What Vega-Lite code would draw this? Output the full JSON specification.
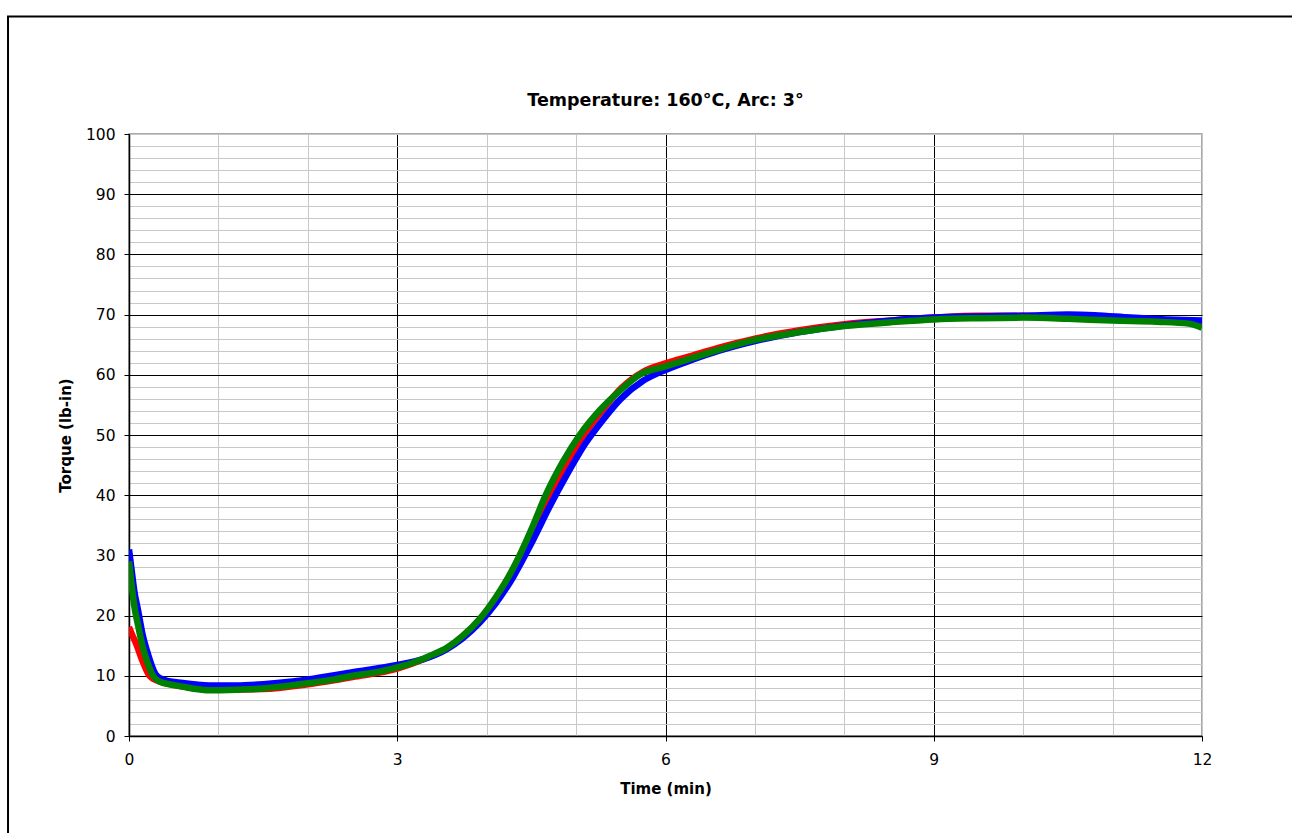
{
  "$schema": "https://vega.github.io/schema/vega-lite/v6.json",
  "width": 1073,
  "height": 602,
  "autosize": {"type": "none"},
  "padding": {"left": 129, "top": 134, "right": 90, "bottom": 97},
  "background": "white",
  "title": {"text": "Temperature: 160°C, Arc: 3°", "fontSize": 17.5, "font": "DejaVu Sans", "fontWeight": "bold", "color": "black", "anchor": "middle", "frame": "group", "offset": 22, "dy": 116},
  "config": {
    "view": {"stroke": "#8c8c8c", "strokeWidth": 1.5},
    "axis": {"labelFont": "DejaVu Sans", "titleFont": "DejaVu Sans", "labelFontSize": 15.5, "titleFontSize": 15, "labelColor": "black", "titleColor": "black", "titleFontWeight": "bold", "domainColor": "black", "domainWidth": 1.5, "tickColor": "black", "tickSize": 5, "labelOverlap": false, "labelFlush": false}
  },
  "datasets": {
    "curves": [
      {"s": "red", "t": 0, "v": 18.1}, {"s": "red", "t": 0.03, "v": 17}, {"s": "red", "t": 0.08, "v": 15.3}, {"s": "red", "t": 0.15, "v": 12.5}, {"s": "red", "t": 0.23, "v": 10}, {"s": "red", "t": 0.35, "v": 9.0}, {"s": "red", "t": 0.5, "v": 8.5}, {"s": "red", "t": 0.75, "v": 7.9}, {"s": "red", "t": 1.0, "v": 7.7}, {"s": "red", "t": 1.5, "v": 7.8}, {"s": "red", "t": 2.0, "v": 8.6}, {"s": "red", "t": 2.5, "v": 9.8}, {"s": "red", "t": 3.0, "v": 11.2}, {"s": "red", "t": 3.3, "v": 12.8}, {"s": "red", "t": 3.55, "v": 14.5}, {"s": "red", "t": 3.73, "v": 16.4}, {"s": "red", "t": 3.92, "v": 19.2}, {"s": "red", "t": 4.1, "v": 22.8}, {"s": "red", "t": 4.3, "v": 27.8}, {"s": "red", "t": 4.5, "v": 33.8}, {"s": "red", "t": 4.7, "v": 39.9}, {"s": "red", "t": 4.9, "v": 45.5}, {"s": "red", "t": 5.1, "v": 50.3}, {"s": "red", "t": 5.3, "v": 54.2}, {"s": "red", "t": 5.5, "v": 57.7}, {"s": "red", "t": 5.75, "v": 60.5}, {"s": "red", "t": 6.0, "v": 61.9}, {"s": "red", "t": 6.3, "v": 63.2}, {"s": "red", "t": 6.6, "v": 64.5}, {"s": "red", "t": 7.0, "v": 66.0}, {"s": "red", "t": 7.5, "v": 67.4}, {"s": "red", "t": 8.0, "v": 68.4}, {"s": "red", "t": 8.5, "v": 69.0}, {"s": "red", "t": 9.0, "v": 69.5}, {"s": "red", "t": 9.5, "v": 69.8}, {"s": "red", "t": 10.0, "v": 69.8}, {"s": "red", "t": 10.5, "v": 69.6}, {"s": "red", "t": 11.0, "v": 69.3}, {"s": "red", "t": 11.5, "v": 69.0}, {"s": "red", "t": 12.0, "v": 68.6},
      {"s": "blue", "t": 0, "v": 31.0}, {"s": "blue", "t": 0.03, "v": 27.5}, {"s": "blue", "t": 0.06, "v": 24}, {"s": "blue", "t": 0.1, "v": 21}, {"s": "blue", "t": 0.15, "v": 17}, {"s": "blue", "t": 0.2, "v": 14.2}, {"s": "blue", "t": 0.31, "v": 10}, {"s": "blue", "t": 0.4, "v": 9.3}, {"s": "blue", "t": 0.6, "v": 8.8}, {"s": "blue", "t": 0.9, "v": 8.4}, {"s": "blue", "t": 1.2, "v": 8.4}, {"s": "blue", "t": 1.5, "v": 8.6}, {"s": "blue", "t": 1.8, "v": 9.0}, {"s": "blue", "t": 2.0, "v": 9.4}, {"s": "blue", "t": 2.5, "v": 10.6}, {"s": "blue", "t": 3.0, "v": 11.8}, {"s": "blue", "t": 3.3, "v": 12.8}, {"s": "blue", "t": 3.55, "v": 14.4}, {"s": "blue", "t": 3.73, "v": 16.2}, {"s": "blue", "t": 3.92, "v": 18.8}, {"s": "blue", "t": 4.1, "v": 22.0}, {"s": "blue", "t": 4.3, "v": 26.5}, {"s": "blue", "t": 4.5, "v": 32.0}, {"s": "blue", "t": 4.7, "v": 38.0}, {"s": "blue", "t": 4.9, "v": 43.5}, {"s": "blue", "t": 5.1, "v": 48.5}, {"s": "blue", "t": 5.3, "v": 52.5}, {"s": "blue", "t": 5.5, "v": 56.0}, {"s": "blue", "t": 5.75, "v": 59.0}, {"s": "blue", "t": 6.0, "v": 60.8}, {"s": "blue", "t": 6.3, "v": 62.5}, {"s": "blue", "t": 6.6, "v": 64.0}, {"s": "blue", "t": 7.0, "v": 65.6}, {"s": "blue", "t": 7.5, "v": 67.1}, {"s": "blue", "t": 8.0, "v": 68.2}, {"s": "blue", "t": 8.5, "v": 69.0}, {"s": "blue", "t": 9.0, "v": 69.5}, {"s": "blue", "t": 9.5, "v": 69.7}, {"s": "blue", "t": 10.0, "v": 69.8}, {"s": "blue", "t": 10.5, "v": 70.0}, {"s": "blue", "t": 10.8, "v": 69.9}, {"s": "blue", "t": 11.2, "v": 69.5}, {"s": "blue", "t": 11.6, "v": 69.2}, {"s": "blue", "t": 12.0, "v": 69.0},
      {"s": "green", "t": 0, "v": 29.0}, {"s": "green", "t": 0.03, "v": 25}, {"s": "green", "t": 0.06, "v": 21.5}, {"s": "green", "t": 0.1, "v": 18.5}, {"s": "green", "t": 0.15, "v": 15}, {"s": "green", "t": 0.2, "v": 12.5}, {"s": "green", "t": 0.27, "v": 10}, {"s": "green", "t": 0.35, "v": 9.0}, {"s": "green", "t": 0.45, "v": 8.6}, {"s": "green", "t": 0.6, "v": 8.2}, {"s": "green", "t": 0.75, "v": 7.8}, {"s": "green", "t": 0.9, "v": 7.6}, {"s": "green", "t": 1.2, "v": 7.7}, {"s": "green", "t": 1.5, "v": 7.9}, {"s": "green", "t": 1.8, "v": 8.4}, {"s": "green", "t": 2.0, "v": 8.75}, {"s": "green", "t": 2.3, "v": 9.4}, {"s": "green", "t": 2.5, "v": 10.0}, {"s": "green", "t": 2.8, "v": 10.7}, {"s": "green", "t": 3.0, "v": 11.4}, {"s": "green", "t": 3.2, "v": 12.3}, {"s": "green", "t": 3.36, "v": 13.3}, {"s": "green", "t": 3.55, "v": 14.6}, {"s": "green", "t": 3.73, "v": 16.6}, {"s": "green", "t": 3.92, "v": 19.4}, {"s": "green", "t": 4.1, "v": 23.0}, {"s": "green", "t": 4.28, "v": 27.4}, {"s": "green", "t": 4.4, "v": 31.0}, {"s": "green", "t": 4.52, "v": 35.0}, {"s": "green", "t": 4.66, "v": 40}, {"s": "green", "t": 4.85, "v": 45.5}, {"s": "green", "t": 5.04, "v": 50}, {"s": "green", "t": 5.27, "v": 54.2}, {"s": "green", "t": 5.5, "v": 57.5}, {"s": "green", "t": 5.71, "v": 60}, {"s": "green", "t": 6.0, "v": 61.4}, {"s": "green", "t": 6.3, "v": 62.8}, {"s": "green", "t": 6.6, "v": 64.2}, {"s": "green", "t": 7.0, "v": 65.8}, {"s": "green", "t": 7.5, "v": 67.1}, {"s": "green", "t": 8.0, "v": 68.1}, {"s": "green", "t": 8.5, "v": 68.7}, {"s": "green", "t": 9.0, "v": 69.2}, {"s": "green", "t": 9.5, "v": 69.4}, {"s": "green", "t": 10.0, "v": 69.5}, {"s": "green", "t": 10.5, "v": 69.3}, {"s": "green", "t": 11.0, "v": 69.0}, {"s": "green", "t": 11.5, "v": 68.8}, {"s": "green", "t": 11.85, "v": 68.5}, {"s": "green", "t": 11.95, "v": 68.1}, {"s": "green", "t": 12.0, "v": 67.8}
    ]
  },
  "layer": [
    {
      "data": {"values": [{"frame": 1}]},
      "mark": {"type": "rect", "fill": null, "fillOpacity": 0, "stroke": "black", "strokeWidth": 2, "clip": false},
      "encoding": {
        "x": {"datum": -1.353, "type": "quantitative"},
        "x2": {"datum": 14},
        "y": {"datum": 119.5, "type": "quantitative"},
        "y2": {"datum": -20}
      }
    },
    {
      "data": {"name": "curves"},
      "transform": [{"filter": "datum.s === 'red'"}],
      "mark": {"type": "line", "color": "#ff0000", "strokeWidth": 6.5, "interpolate": "monotone", "clip": true},
      "encoding": {
        "x": {
          "field": "t", "type": "quantitative",
          "scale": {"domain": [0, 12], "nice": false, "zero": false},
          "axis": {
            "title": "Time (min)", "titlePadding": 14,
            "values": [0, 1, 2, 3, 4, 5, 6, 7, 8, 9, 10, 11, 12],
            "tickCount": 100,
            "labelExpr": "datum.value % 3 === 0 ? format(datum.value, 'd') : ''",
            "labelPadding": 11,
            "grid": true,
            "gridColor": {"condition": {"test": "datum.value % 3 === 0 && datum.value < 12", "value": "#000000"}, "value": "#c8c8c8"},
            "tickOpacity": {"condition": {"test": "datum.value % 3 === 0", "value": 1}, "value": 0}
          }
        },
        "y": {
          "field": "v", "type": "quantitative",
          "scale": {"domain": [0, 100], "nice": false, "zero": false},
          "axis": {
            "title": "Torque (lb-in)", "titlePadding": 12,
            "values": [0, 2, 4, 6, 8, 10, 12, 14, 16, 18, 20, 22, 24, 26, 28, 30, 32, 34, 36, 38, 40, 42, 44, 46, 48, 50, 52, 54, 56, 58, 60, 62, 64, 66, 68, 70, 72, 74, 76, 78, 80, 82, 84, 86, 88, 90, 92, 94, 96, 98, 100],
            "tickCount": 200,
            "labelExpr": "datum.value % 10 === 0 ? format(datum.value, 'd') : ''",
            "labelPadding": 9,
            "grid": true,
            "gridColor": {"condition": {"test": "datum.value % 10 === 0 && datum.value < 100", "value": "#000000"}, "value": "#c8c8c8"},
            "tickOpacity": {"condition": {"test": "datum.value % 10 === 0", "value": 1}, "value": 0}
          }
        }
      }
    },
    {
      "data": {"name": "curves"},
      "transform": [{"filter": "datum.s === 'blue'"}],
      "mark": {"type": "line", "color": "#0000ff", "strokeWidth": 6.5, "interpolate": "monotone", "clip": true},
      "encoding": {
        "x": {"field": "t", "type": "quantitative"},
        "y": {"field": "v", "type": "quantitative"}
      }
    },
    {
      "data": {"name": "curves"},
      "transform": [{"filter": "datum.s === 'green'"}],
      "mark": {"type": "line", "color": "#008000", "strokeWidth": 6.5, "interpolate": "monotone", "clip": true},
      "encoding": {
        "x": {"field": "t", "type": "quantitative"},
        "y": {"field": "v", "type": "quantitative"}
      }
    }
  ]
}
